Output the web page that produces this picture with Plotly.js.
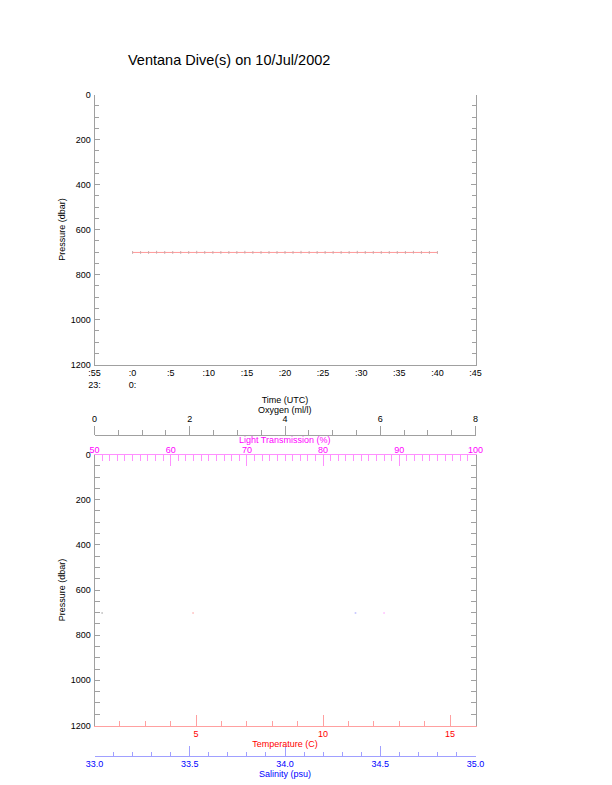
<!DOCTYPE html>
<html>
<head>
<meta charset="utf-8">
<script src="https://cdn.plot.ly/plotly-3.0.1.min.js"></script>
<style>
  html, body { margin: 0; padding: 0; background: #ffffff; }
  #chart { width: 612px; height: 785px; }
</style>
</head>
<body>
<div id="chart"></div>
<script>
// Dive track: time (UTC) and pressure (dbar)
const diveTimes = [
  "2002-07-10 00:00:00", "2002-07-10 00:01:03", "2002-07-10 00:02:06", "2002-07-10 00:03:09",
  "2002-07-10 00:04:13", "2002-07-10 00:05:16", "2002-07-10 00:06:19", "2002-07-10 00:07:22",
  "2002-07-10 00:08:25", "2002-07-10 00:09:28", "2002-07-10 00:10:32", "2002-07-10 00:11:35",
  "2002-07-10 00:12:38", "2002-07-10 00:13:41", "2002-07-10 00:14:44", "2002-07-10 00:15:47",
  "2002-07-10 00:16:51", "2002-07-10 00:17:54", "2002-07-10 00:18:57", "2002-07-10 00:20:00",
  "2002-07-10 00:21:03", "2002-07-10 00:22:06", "2002-07-10 00:23:10", "2002-07-10 00:24:13",
  "2002-07-10 00:25:16", "2002-07-10 00:26:19", "2002-07-10 00:27:22", "2002-07-10 00:28:25",
  "2002-07-10 00:29:29", "2002-07-10 00:30:32", "2002-07-10 00:31:35", "2002-07-10 00:32:38",
  "2002-07-10 00:33:41", "2002-07-10 00:34:44", "2002-07-10 00:35:48", "2002-07-10 00:36:51",
  "2002-07-10 00:37:54", "2002-07-10 00:38:57", "2002-07-10 00:40:00"
];
const divePressure = [
  702, 702, 702, 701, 702, 702, 702, 702, 701, 702,
  702, 702, 702, 702, 701, 702, 702, 702, 702, 702,
  702, 701, 702, 702, 702, 702, 702, 702, 701, 702,
  702, 702, 702, 702, 702, 701, 702, 702, 702
];

// Time axis ticks
const timeTickVals = [
  "2002-07-09 23:55", "2002-07-10 00:00", "2002-07-10 00:05", "2002-07-10 00:10",
  "2002-07-10 00:15", "2002-07-10 00:20", "2002-07-10 00:25", "2002-07-10 00:30",
  "2002-07-10 00:35", "2002-07-10 00:40", "2002-07-10 00:45"
];
const timeTickText = [":55<br>23:", ":0<br>0:", ":5", ":10", ":15", ":20", ":25", ":30", ":35", ":40", ":45"];
const timeRange = ["2002-07-09 23:55", "2002-07-10 00:45"];

// Profile samples (one reading per sensor)
const profilePressure = [702];
const oxygenValues = [0.16];
const transmissionValues = [88.0];
const temperatureValues = [4.88];
const salinityValues = [34.37];

// Axis ranges
const pressureRange = [1200, 0];
const oxygenRange = [0, 8];
const transmissionRange = [50, 100];
const temperatureRange = [1, 16];
const salinityRange = [33, 35];

const W = 612, H = 785;
const px = v => v / W;
const py = v => 1 - v / H;

const FONT = "Liberation Sans, Arial, Helvetica, sans-serif";
const GRAY = "#a0a0a0";
const tickFont = c => ({ family: FONT, size: 9, color: c });
const titleFont = c => ({ family: FONT, size: 9, color: c });

const xDom = [px(94.5), px(475.5)];
const xMid = (xDom[0] + xDom[1]) / 2;

const traces = [
  {
    x: diveTimes, y: divePressure, xaxis: "x", yaxis: "y",
    type: "scatter", mode: "lines+markers",
    line: { color: "#ff9a9a", width: 1 },
    marker: { symbol: "line-ns-open", size: 2, color: "#c8a8a8", line: { width: 1, color: "#c8a8a8" } },
    hoverinfo: "x+y", showlegend: false
  },
  {
    x: oxygenValues, y: profilePressure, xaxis: "x4", yaxis: "y2",
    type: "scatter", mode: "markers",
    marker: { size: 2, color: "#c8c8c8" }, showlegend: false
  },
  {
    x: temperatureValues, y: profilePressure, xaxis: "x2", yaxis: "y2",
    type: "scatter", mode: "markers",
    marker: { size: 2, color: "#ffc8c8" }, showlegend: false
  },
  {
    x: salinityValues, y: profilePressure, xaxis: "x5", yaxis: "y2",
    type: "scatter", mode: "markers",
    marker: { size: 2, color: "#c8c8ff" }, showlegend: false
  },
  {
    x: transmissionValues, y: profilePressure, xaxis: "x3", yaxis: "y2",
    type: "scatter", mode: "markers",
    marker: { size: 2, color: "#ffc8ff" }, showlegend: false
  }
];

const pressureAxis = dom => ({
  domain: dom,
  range: pressureRange,
  tickvals: [0, 200, 400, 600, 800, 1000, 1200],
  ticks: "inside", ticklen: 5, tickwidth: 1, tickcolor: GRAY,
  minor: { dtick: 50, ticks: "inside", ticklen: 4, tickcolor: GRAY },
  showline: true, linecolor: GRAY, linewidth: 1, mirror: "allticks",
  showgrid: false, zeroline: false,
  tickfont: tickFont("#000000"),
  ticklabelstandoff: 1,
  title: { text: "Pressure (dbar)", font: titleFont("#000000"), standoff: 3 }
});

const layout = {
  width: W, height: H, autosize: false,
  margin: { l: 0, r: 0, t: 0, b: 0, pad: 0 },
  paper_bgcolor: "#ffffff", plot_bgcolor: "#ffffff",
  showlegend: false,
  annotations: [
    {
      text: "Ventana Dive(s) on 10/Jul/2002",
      xref: "paper", yref: "paper", x: px(126), y: py(60),
      xanchor: "left", yanchor: "middle", showarrow: false,
      font: { family: FONT, size: 14.5, color: "#000000" }
    },
    {
      text: "Oxygen (ml/l)",
      xref: "paper", yref: "paper", x: xMid, y: py(410),
      xanchor: "center", yanchor: "middle", showarrow: false,
      font: titleFont("#000000")
    },
    {
      text: "Light Transmission (%)",
      xref: "paper", yref: "paper", x: xMid, y: py(440),
      xanchor: "center", yanchor: "middle", showarrow: false,
      font: titleFont("#ff00ff")
    }
  ],

  // Upper panel: time axis
  xaxis: {
    domain: xDom, anchor: "y", type: "date", range: timeRange,
    tickmode: "array", tickvals: timeTickVals, ticktext: timeTickText,
    ticks: "", showline: true, linecolor: GRAY, linewidth: 1,
    showgrid: false, zeroline: false,
    tickfont: tickFont("#000000"),
    title: { text: "Time (UTC)", font: titleFont("#000000"), standoff: 7 }
  },
  xaxis6: {
    overlaying: "x", anchor: "y", side: "top", type: "date", range: timeRange,
    tickmode: "array", tickvals: timeTickVals,
    ticks: "inside", ticklen: 5, tickcolor: GRAY,
    showticklabels: false, showline: true, linecolor: GRAY, linewidth: 1,
    showgrid: false, zeroline: false
  },
  yaxis: Object.assign(pressureAxis([py(364.5), py(94.5)]), { anchor: "x" }),

  // Lower panel: temperature on the frame bottom
  xaxis2: {
    domain: xDom, anchor: "y2", side: "bottom", range: temperatureRange,
    tickvals: [5, 10, 15],
    ticks: "inside", ticklen: 11, tickcolor: "#ffa0a0",
    minor: { dtick: 1, tick0: 0, ticks: "inside", ticklen: 5, tickcolor: "#ffa0a0" },
    showline: true, linecolor: "#ffa0a0", linewidth: 1,
    showgrid: false, zeroline: false,
    tickfont: tickFont("#ff0000"),
    title: { text: "Temperature (C)", font: titleFont("#ff0000"), standoff: 2 }
  },
  // Light transmission on the frame top
  xaxis3: {
    overlaying: "x2", anchor: "y2", side: "top", range: transmissionRange,
    dtick: 10, tick0: 50,
    ticks: "inside", ticklen: 11, tickcolor: "#ff90ff",
    minor: { dtick: 1, ticks: "inside", ticklen: 6, tickcolor: "#ff90ff" },
    showline: true, linecolor: "#ff90ff", linewidth: 1,
    showgrid: false, zeroline: false,
    tickfont: tickFont("#ff00ff"),
    ticklabelstandoff: -3
  },
  // Oxygen on a detached top axis
  xaxis4: {
    overlaying: "x2", anchor: "free", position: py(434.5), side: "top", range: oxygenRange,
    dtick: 2, tick0: 0,
    ticks: "outside", ticklen: 9, tickcolor: GRAY,
    minor: { dtick: 0.5, ticks: "outside", ticklen: 5, tickcolor: GRAY },
    showline: true, linecolor: GRAY, linewidth: 1,
    showgrid: false, zeroline: false,
    tickfont: tickFont("#000000")
  },
  // Salinity on a detached bottom axis
  xaxis5: {
    overlaying: "x2", anchor: "free", position: py(755.5), side: "bottom", range: salinityRange,
    dtick: 0.5, tick0: 33, tickformat: ".1f",
    ticks: "inside", ticklen: 10, tickcolor: "#a0a0ff",
    minor: { dtick: 0.1, ticks: "inside", ticklen: 4, tickcolor: "#a0a0ff" },
    showline: true, linecolor: "#a0a0ff", linewidth: 1,
    showgrid: false, zeroline: false,
    tickfont: tickFont("#0000ff"),
    title: { text: "Salinity (psu)", font: titleFont("#0000ff"), standoff: 2 }
  },
  yaxis2: Object.assign(pressureAxis([py(725.5), py(454.5)]), { anchor: "x2" })
};

Plotly.newPlot("chart", traces, layout, { displayModeBar: false, staticPlot: true });
</script>
</body>
</html>
